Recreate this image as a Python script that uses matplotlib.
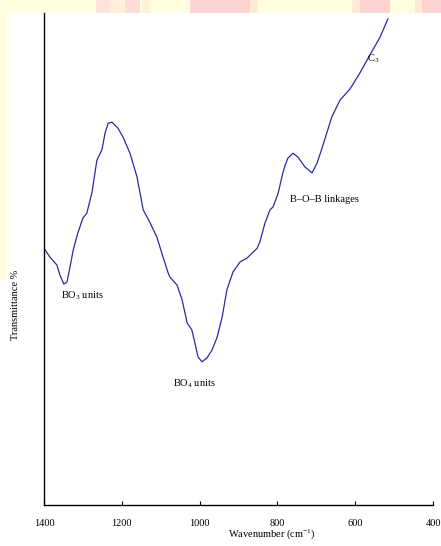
import matplotlib
matplotlib.use("Agg")
import matplotlib.pyplot as plt
from matplotlib.patches import Rectangle

plt.rcParams["mathtext.fontset"] = "custom"
plt.rcParams["mathtext.rm"] = "Liberation Serif"
plt.rcParams["mathtext.it"] = "Liberation Serif:italic"
plt.rcParams["mathtext.default"] = "rm"

# FTIR spectrum
wavenumber = [1400, 1385, 1367, 1359, 1349, 1341, 1333, 1325, 1313, 1300, 1290, 1277,
              1264, 1251, 1243, 1235, 1225, 1210, 1197, 1179, 1161, 1145, 1127, 1110,
              1094, 1081, 1076, 1058, 1045, 1032, 1020, 1012, 1004, 994, 981, 968,
              955, 942, 930, 914, 896, 878, 852, 845, 832, 819, 811, 798, 786, 780,
              773, 760, 747, 729, 711, 698, 685, 660, 639, 613, 588, 562, 536, 516]
transmittance = [52.2, 50.4, 48.8, 46.7, 44.9, 45.3, 48.4, 51.8, 55.3, 58.3, 59.3, 63.4,
                 70.1, 72.2, 75.6, 77.6, 77.8, 76.6, 74.8, 71.5, 66.7, 60.0, 57.3, 54.5,
                 50.4, 47.2, 46.3, 44.7, 41.7, 37.0, 35.6, 32.9, 30.1, 29.1, 29.9, 31.5,
                 34.1, 38.2, 43.7, 47.4, 49.4, 50.2, 52.2, 53.5, 57.3, 60.0, 60.6, 63.4,
                 67.5, 69.1, 70.5, 71.5, 70.7, 68.7, 67.5, 69.5, 72.6, 78.9, 82.3, 84.6,
                 87.8, 91.5, 95.1, 98.8]

xticks = [1400, 1200, 1000, 800, 600, 400]

# band labels: (text, wavenumber, transmittance)
labels = [("BO$_3$ units", 1357, 42.5),
          ("BO$_4$ units", 1068, 24.6),
          ("B\u2013O\u2013B linkages", 768, 62.0),
          ("C$_3$", 570, 90.8)]

W, H = 441, 546
fig = plt.figure(figsize=(W / 100, H / 100), dpi=100)
fig.patch.set_facecolor("white")

# faint coloured strips along the top and left edges of the scan
def strip(x0, y0, x1, y1, color):
    fig.add_artist(Rectangle((x0 / W, 1 - y1 / H), (x1 - x0) / W, (y1 - y0) / H,
                             transform=fig.transFigure, color=color, lw=0, zorder=0))

strip(0, 0, W, 13, "#fffde0")
strip(0, 13, 7, 280, "#fffde0")
for x0, x1, c in [(96, 110, "#ffe2dc"), (110, 125, "#fff0dc"), (125, 140, "#ffdcd8"),
                  (142, 150, "#fff2dc"), (190, 250, "#ffd2d2"), (250, 258, "#ffead8"),
                  (352, 360, "#ffead8"), (360, 390, "#ffd2d2"), (415, 422, "#ffead8"),
                  (422, W, "#ffd2d2")]:
    strip(x0, 0, x1, 13, c)

ax = fig.add_axes([44 / W, (H - 505) / H, (433 - 44) / W, (505 - 13) / H])
ax.set_facecolor("none")
ax.plot(wavenumber, transmittance, color="#2a2aa6", lw=0.9)

ax.set_xlim(1400, 400)
ax.set_ylim(0, 100)
ax.set_xticks(xticks)
ax.set_yticks([])
ax.spines["top"].set_visible(False)
ax.spines["right"].set_visible(False)
ax.spines["left"].set_linewidth(1.0)
ax.spines["bottom"].set_linewidth(1.0)
ax.tick_params(axis="x", direction="in", length=3, width=0.8, pad=10,
               labelsize=7.5, labelfontfamily="Liberation Serif")

for txt, x, y in labels:
    ax.text(x, y, txt, fontsize=7.5, family="Liberation Serif", va="center", ha="left")

fig.text(272 / W, 1 - 534 / H, "Wavenumber (cm$^{-1}$)", ha="center", va="center",
         fontsize=7.5, family="Liberation Serif")
fig.text(15 / W, 1 - 305 / H, "Transmittance %", ha="center", va="center",
         rotation=90, fontsize=7.5, family="Liberation Serif")

fig.savefig("out.png", dpi=100)
